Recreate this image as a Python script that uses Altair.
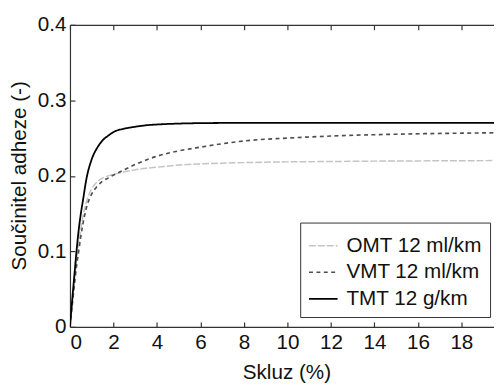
import altair as alt
import pandas as pd

slip = [0, 0.1, 0.2, 0.3, 0.4, 0.5, 0.6, 0.75, 1.0, 1.25, 1.5, 1.75, 2.0, 2.5, 3.0,
        3.5, 4.0, 5.0, 6.0, 7.0, 8.0, 10.0, 12.0, 14.0, 16.0, 18.0, 20.0]
omt = [0, 0.030, 0.060, 0.088, 0.110, 0.130, 0.147, 0.165, 0.183, 0.192, 0.197, 0.200,
       0.202, 0.2055, 0.208, 0.210, 0.2114, 0.2143, 0.2158, 0.2168, 0.2175, 0.2185,
       0.2190, 0.2195, 0.2198, 0.2200, 0.2203]
vmt = [0, 0.028, 0.055, 0.080, 0.100, 0.120, 0.137, 0.157, 0.176, 0.186, 0.193, 0.197,
       0.201, 0.208, 0.215, 0.221, 0.226, 0.233, 0.238, 0.2425, 0.2462, 0.250, 0.2527,
       0.2545, 0.2557, 0.2565, 0.2572]
tmt = [0, 0.035, 0.068, 0.100, 0.128, 0.150, 0.168, 0.195, 0.222, 0.237, 0.247, 0.253,
       0.258, 0.2625, 0.265, 0.267, 0.268, 0.2692, 0.2698, 0.270, 0.270, 0.270, 0.270,
       0.270, 0.270, 0.270, 0.270]
series_names = ["OMT 12 ml/km", "VMT 12 ml/km", "TMT 12 g/km"]
x_ticks = [0, 2, 4, 6, 8, 10, 12, 14, 16, 18]
y_ticks = [0, 0.1, 0.2, 0.3, 0.4]

rows = []
for name, vals in zip(series_names, [omt, vmt, tmt]):
    for s, v in zip(slip, vals):
        rows.append({"slip": s, "mu": v, "series": name})
df = pd.DataFrame(rows)

W, H = 431, 307
FONT = "Liberation Sans"
FS = 21
xs = alt.Scale(domain=[0, 19.5], nice=False, zero=False)
ys = alt.Scale(domain=[0, 0.4], nice=False)

base = alt.Chart(df)

lines = base.mark_line(clip=True, interpolate="monotone").encode(
    x=alt.X("slip:Q", scale=xs, axis=alt.Axis(
        orient="bottom", values=x_ticks, ticks=False, tickSize=0, labelPadding=5,
        domain=True, domainColor="#333333", grid=False, title="Skluz (%)",
        titleX=220, titleY=52, titleBaseline="alphabetic", titleAlign="center")),
    y=alt.Y("mu:Q", scale=ys, axis=alt.Axis(
        orient="left", values=y_ticks, ticks=False, tickSize=0, labelPadding=4,
        domain=True, domainColor="#333333", grid=False, title="Součinitel adheze (-)",
        titleX=-51, titleY=153, titleAngle=270, titleAlign="center",
        titleBaseline="middle", labelExpr="datum.value == 0 ? '0' : format(datum.value, '.1f')")),
    color=alt.Color("series:N", scale=alt.Scale(domain=series_names,
                    range=["#c4c4c4", "#4d4d4d", "#000000"]),
                    legend=alt.Legend(title=None)),
    strokeDash=alt.StrokeDash("series:N", scale=alt.Scale(domain=series_names,
                              range=[[7, 2], [4, 3.5], [1, 0]]),
                              legend=alt.Legend(title=None)),
    strokeWidth=alt.StrokeWidth("series:N", scale=alt.Scale(domain=series_names,
                                range=[1.5, 1.8, 2.0]),
                                legend=alt.Legend(title=None)),
)

ticks_in = base.mark_line(opacity=0).encode(
    x=alt.X("slip:Q", scale=xs, axis=alt.Axis(
        orient="top", offset=-H, values=x_ticks, domain=False, labels=False,
        ticks=True, tickSize=5, tickColor="#333333", grid=False, title=None)),
    y=alt.Y("mu:Q", scale=ys, axis=alt.Axis(
        orient="right", offset=-W, values=y_ticks, domain=False, labels=False,
        ticks=True, tickSize=5, tickColor="#333333", grid=False, title=None)),
)

top_frame = base.mark_line(opacity=0).encode(
    x=alt.X("slip:Q", scale=xs, axis=alt.Axis(
        orient="bottom", offset=-H, values=x_ticks, domain=True, domainColor="#333333",
        labels=False, ticks=True, tickSize=5, tickColor="#333333", grid=False, title=None)),
    y=alt.Y("mu:Q", scale=ys, axis=None),
)

chart = alt.layer(lines, ticks_in, top_frame).resolve_axis(
    x="independent", y="independent"
).properties(
    width=W, height=H,
    autosize=alt.AutoSizeParams(type="none"),
    padding={"left": 63, "top": 14, "right": 0, "bottom": 56},
).configure_view(stroke=None).configure_axis(
    labelFont=FONT, titleFont=FONT, labelFontSize=FS, titleFontSize=FS,
    labelColor="#111111", titleColor="#111111", titleFontWeight="normal",
    domainWidth=1.2, tickWidth=1.2,
).configure_legend(
    orient="none", legendX=234, legendY=201, strokeColor="#333333", strokeWidth=1,
    fillColor="white", padding=8, symbolType="stroke", symbolSize=841,
    symbolStrokeWidth=1.5, labelFont=FONT, labelFontSize=FS, labelColor="#111111",
    rowPadding=1, labelOffset=8, labelLimit=300, symbolOffset=0,
)

chart.save("out.html", embed_options={"renderer": "svg", "actions": False})
